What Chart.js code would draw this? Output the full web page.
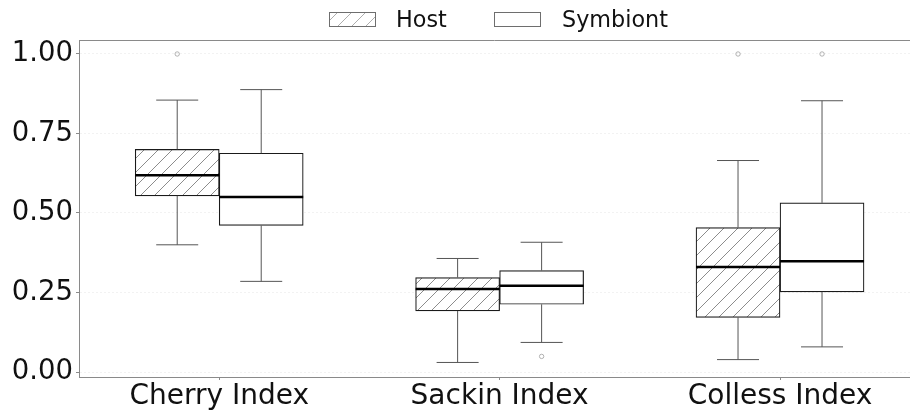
<!DOCTYPE html>
<html>
<head>
<meta charset="utf-8">
<script src="https://cdn.jsdelivr.net/npm/chart.js@4"></script>
<style>
  html, body { margin: 0; padding: 0; background: #ffffff; overflow: hidden; }
  #wrap { position: relative; width: 910px; height: 413px; }
</style>
</head>
<body>
<div id="wrap"><canvas id="chart"></canvas></div>
<script>
// Tree balance indices, host vs symbiont phylogenies
const categories = ['Cherry Index', 'Sackin Index', 'Colless Index'];
const seriesNames = ['Host', 'Symbiont'];

const hostLow      = [0.400, 0.030, 0.039];
const hostQ1       = [0.554, 0.192, 0.172];
const hostMedian   = [0.619, 0.261, 0.330];
const hostQ3       = [0.700, 0.297, 0.454];
const hostHigh     = [0.855, 0.357, 0.665];
const hostOutliers = [[1.0], [], [1.0]];

const symLow       = [0.285, 0.093, 0.079];
const symQ1        = [0.461, 0.213, 0.252];
const symMedian    = [0.550, 0.271, 0.348];
const symQ3        = [0.688, 0.319, 0.532];
const symHigh      = [0.888, 0.408, 0.853];
const symOutliers  = [[], [0.049], [1.0]];

const yTicks = [0, 0.25, 0.5, 0.75, 1.0];

const FONT = '"DejaVu Sans", "Liberation Sans", sans-serif';

// diagonal "/" hatch tile
function makeHatch(color, width) {
  const s = 14;
  const c = document.createElement('canvas');
  c.width = s; c.height = s;
  const g = c.getContext('2d');
  g.fillStyle = '#ffffff';
  g.fillRect(0, 0, s, s);
  g.strokeStyle = color;
  g.lineWidth = width;
  g.beginPath();
  g.moveTo(-1, s + 1); g.lineTo(s + 1, -1);
  g.moveTo(-1, 1); g.lineTo(1, -1);
  g.moveTo(s - 1, s + 1); g.lineTo(s + 1, s - 1);
  g.stroke();
  return g.createPattern(c, 'repeat');
}

const hatchBox = makeHatch('#5a5a5a', 0.7);
const hatchLegend = makeHatch('#8a8a8a', 0.7);

const stats = [
  { low: hostLow, q1: hostQ1, med: hostMedian, q3: hostQ3, high: hostHigh, out: hostOutliers },
  { low: symLow, q1: symQ1, med: symMedian, q3: symQ3, high: symHigh, out: symOutliers }
];

function boxData(s) {
  return categories.map((_, i) => ({ x: i, y: [s.q1[i], s.q3[i]] }));
}

// whiskers, caps, medians and outlier circles drawn on top of the box bars
const boxExtras = {
  id: 'boxExtras',
  afterDatasetsDraw(chart) {
    const ctx = chart.ctx;
    const ys = chart.scales.y;
    const area = chart.chartArea;
    ctx.save();
    ctx.beginPath();
    ctx.rect(area.left, area.top, area.right - area.left, area.bottom - area.top);
    ctx.clip();
    stats.forEach((s, di) => {
      const meta = chart.getDatasetMeta(di);
      meta.data.forEach((bar, i) => {
        const cx = bar.x;
        const half = bar.width / 2;
        const capHalf = bar.width / 4;
        const pLow = ys.getPixelForValue(s.low[i]);
        const pQ1 = ys.getPixelForValue(s.q1[i]);
        const pQ3 = ys.getPixelForValue(s.q3[i]);
        const pHigh = ys.getPixelForValue(s.high[i]);
        const pMed = ys.getPixelForValue(s.med[i]);
        ctx.strokeStyle = '#555555';
        ctx.lineWidth = 1;
        ctx.beginPath();
        ctx.moveTo(cx, pQ3); ctx.lineTo(cx, pHigh);
        ctx.moveTo(cx, pQ1); ctx.lineTo(cx, pLow);
        ctx.moveTo(cx - capHalf, pHigh); ctx.lineTo(cx + capHalf, pHigh);
        ctx.moveTo(cx - capHalf, pLow); ctx.lineTo(cx + capHalf, pLow);
        ctx.stroke();
        ctx.strokeStyle = '#000000';
        ctx.lineWidth = 2.5;
        ctx.beginPath();
        ctx.moveTo(cx - half, pMed); ctx.lineTo(cx + half, pMed);
        ctx.stroke();
        ctx.strokeStyle = '#a0a0a0';
        ctx.lineWidth = 0.8;
        s.out[i].forEach(v => {
          ctx.beginPath();
          ctx.arc(cx, ys.getPixelForValue(v), 2.2, 0, Math.PI * 2);
          ctx.stroke();
        });
      });
    });
    ctx.restore();

    // top frame line
    ctx.save();
    ctx.strokeStyle = '#8a8a8a';
    ctx.lineWidth = 1;
    ctx.beginPath();
    ctx.moveTo(area.left, area.top + 0.5);
    ctx.lineTo(area.right, area.top + 0.5);
    ctx.stroke();
    ctx.restore();
  }
};

// legend row at the top
const legendRow = {
  id: 'legendRow',
  afterDraw(chart) {
    const ctx = chart.ctx;
    const items = [
      { box: 329.5, text: 396, fill: hatchLegend, label: seriesNames[0] },
      { box: 494.5, text: 562, fill: '#ffffff', label: seriesNames[1] }
    ];
    ctx.save();
    items.forEach(it => {
      ctx.fillStyle = it.fill;
      ctx.fillRect(it.box, 12.5, 46, 14);
      ctx.strokeStyle = '#6e6e6e';
      ctx.lineWidth = 1;
      ctx.strokeRect(it.box, 12.5, 46, 14);
      ctx.fillStyle = '#111111';
      ctx.font = '22.3px ' + FONT;
      ctx.textAlign = 'left';
      ctx.textBaseline = 'alphabetic';
      ctx.fillText(it.label, it.text, 27);
    });
    ctx.restore();
  }
};

new Chart(document.getElementById('chart'), {
  type: 'bar',
  data: {
    datasets: [
      {
        label: seriesNames[0],
        data: boxData(stats[0]),
        backgroundColor: hatchBox,
        borderColor: '#1a1a1a',
        borderWidth: 1.2,
        borderSkipped: false,
        barThickness: 84
      },
      {
        label: seriesNames[1],
        data: boxData(stats[1]),
        backgroundColor: '#ffffff',
        borderColor: '#1a1a1a',
        borderWidth: 1.2,
        borderSkipped: false,
        barThickness: 84
      }
    ]
  },
  options: {
    responsive: true,
    maintainAspectRatio: false,
    animation: false,
    layout: { padding: { top: 40, right: 0, bottom: 0, left: 0 } },
    plugins: {
      legend: { display: false },
      tooltip: { enabled: false },
      title: { display: false }
    },
    scales: {
      x: {
        type: 'linear',
        min: -0.5,
        max: 2.4635,
        offset: false,
        afterBuildTicks(scale) { scale.ticks = categories.map((_, i) => ({ value: i })); },
        afterFit(scale) { scale.height = 36; },
        ticks: {
          autoSkip: false,
          maxRotation: 0,
          padding: 0,
          color: '#111111',
          font: { family: FONT, size: 28 },
          callback: (v) => categories[v]
        },
        grid: {
          display: true,
          drawOnChartArea: false,
          drawTicks: true,
          tickLength: 3,
          tickColor: '#8a8a8a',
          offset: false
        },
        border: { display: true, color: '#8a8a8a', width: 1 }
      },
      y: {
        type: 'linear',
        min: -0.0157,
        max: 1.044,
        afterBuildTicks(scale) { scale.ticks = yTicks.map(v => ({ value: v })); },
        afterFit(scale) { scale.width = 79; },
        ticks: {
          padding: 3,
          color: '#111111',
          font: { family: FONT, size: 27.5 },
          callback: (v) => Number(v).toFixed(2)
        },
        grid: {
          color: '#f2f2f2',
          lineWidth: 1,
          tickLength: 3,
          tickColor: '#8a8a8a',
          tickBorderDash: []
        },
        border: { display: true, color: '#8a8a8a', width: 1, dash: [2, 2] }
      }
    }
  },
  plugins: [boxExtras, legendRow]
});
</script>
</body>
</html>
